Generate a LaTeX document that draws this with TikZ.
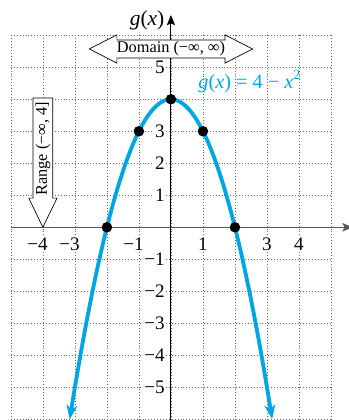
\documentclass[tikz,border=0pt]{standalone}
\usepackage{fontspec}
\setmainfont{Liberation Serif}
\usepackage{tikz}
\usetikzlibrary{arrows.meta}
\definecolor{curvecyan}{RGB}{0,166,228}

\begin{document}
\begin{tikzpicture}[
        gridline/.style={black!60, dotted, line width=0.6pt},
        xaxis/.style={black!65, line width=1.4pt, -{Stealth[length=3.2mm, width=2.6mm, inset=0.6mm]}},
        yaxis/.style={black, line width=0.9pt, -{Stealth[length=3.2mm, width=2.6mm, inset=0.6mm]}},
        banner/.style={draw, fill=white, line width=0.6pt},
        bannertext/.style={font=\fontsize{14.5}{15}\selectfont, inner sep=0pt},
        curve/.style={curvecyan, line width=3.4pt,
            {Stealth[length=4.5mm, width=3.4mm, inset=1.4mm]}-{Stealth[length=4.5mm, width=3.4mm, inset=1.4mm]}},
        dot/.style={circle, fill=black, inner sep=0pt, minimum size=3.3mm},
        xtick/.style={anchor=north, font=\fontsize{17}{17}\selectfont, fill=white, inner sep=1pt},
        negx/.style={xshift=-4.8pt},
        ytick/.style={anchor=east, font=\fontsize{17}{17}\selectfont, fill=white, inner sep=1pt},
    ]
    \useasboundingbox (-5.34,-6.02) rectangle (5.56,7.10);
    % grid and axes
    \draw[gridline] (-5,-6) grid (5,6);
    \coordinate (xstart) at (-5,0);
    \coordinate (xend) at (5.68,0);
    \coordinate (ystart) at (0,-6.02);
    \coordinate (yend) at (0,6.63);
    \draw[xaxis] (xstart) -- (xend);
    \draw[yaxis] (ystart) -- (yend);
    \node[anchor=east, font=\fontsize{19}{19}\selectfont, inner sep=0pt] (ylabel) at (-0.2,6.45) {\textit{g}(\textit{x})};

    % domain and range
    \draw[banner] (-2.55,5.57) -- (-1.69,6.01) -- (-1.69,5.85) -- (1.69,5.85) -- (1.69,6.01)
        -- (2.55,5.57) -- (1.69,5.13) -- (1.69,5.29) -- (-1.69,5.29) -- (-1.69,5.13) -- cycle;
    \node[bannertext] (domain) at (0,5.57) {Domain (−∞, ∞)};
    \draw[banner] (-4.31,4.04) -- (-3.69,4.04) -- (-3.69,0.91) -- (-3.56,0.91) -- (-4,0)
        -- (-4.44,0.91) -- (-4.31,0.91) -- cycle;
    \node[bannertext, rotate=90] (range) at (-4,2.45) {Range (−∞, 4]};

    % tick labels
    \node[xtick, negx] (xm4) at (-4,-0.28) {−4};
    \node[xtick, negx] (xm3) at (-3,-0.28) {−3};
    \node[xtick, negx] (xm1) at (-1,-0.28) {−1};
    \node[xtick] (xp1) at (1,-0.28) {1};
    \node[xtick] (xp3) at (3,-0.28) {3};
    \node[xtick] (xp4) at (4,-0.28) {4};
    \node[ytick] (yp5) at (-0.15,5) {5};
    \node[ytick] (yp3) at (-0.15,3) {3};
    \node[ytick] (yp2) at (-0.15,2) {2};
    \node[ytick] (yp1) at (-0.15,1) {1};
    \node[ytick] (ym1) at (-0.15,-1) {−1};
    \node[ytick] (ym2) at (-0.15,-2) {−2};
    \node[ytick] (ym3) at (-0.15,-3) {−3};
    \node[ytick] (ym4) at (-0.15,-4) {−4};
    \node[ytick] (ym5) at (-0.15,-5) {−5};

    % the parabola
    \draw[curve] plot[domain=-3.1623:3.1623, samples=80, smooth] (\x, {4-\x*\x});
    \node[dot] (vertex) at (0,4) {};
    \node[dot] (pleft) at (-1,3) {};
    \node[dot] (pright) at (1,3) {};
    \node[dot] (rootleft) at (-2,0) {};
    \node[dot] (rootright) at (2,0) {};
    \node[curvecyan, font=\fontsize{18}{18}\selectfont] (eqn) at (2.45,4.55)
        {\textit{g}(\textit{x}) = 4 − \textit{x}\raisebox{0.42em}{\fontsize{12.5}{12.5}\selectfont 2}};
\end{tikzpicture}
\end{document}
